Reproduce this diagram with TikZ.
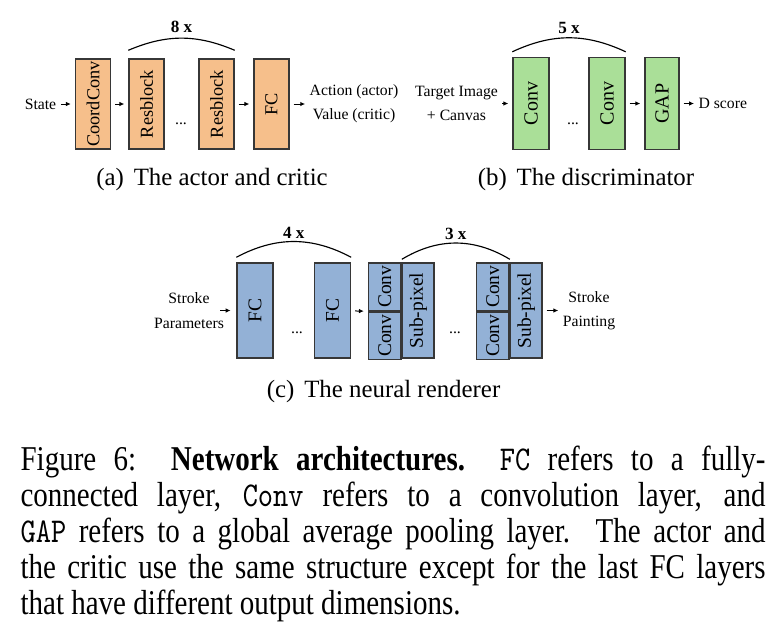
\documentclass[tikz,border=0pt]{standalone}
\usepackage{fontspec}
\setmainfont{Liberation Serif}
\usetikzlibrary{arrows.meta}
\definecolor{actfill}{RGB}{246,191,139}
\definecolor{disfill}{RGB}{170,223,152}
\definecolor{renfill}{RGB}{147,177,214}
\definecolor{edgegray}{RGB}{55,55,55}

\begin{document}
\begin{tikzpicture}[x=0.35pt,y=-0.35pt,
   layer/.style={draw=edgegray, line width=0.5pt, inner sep=0pt},
   actbox/.style={layer, fill=actfill, minimum width=12.25pt, minimum height=31.5pt, font=\fontsize{6.4}{7}\selectfont},
   disbox/.style={layer, fill=disfill, minimum width=12.6pt, minimum height=32.2pt, font=\fontsize{7}{8}\selectfont},
   renbox/.style={layer, fill=renfill, minimum width=12.6pt, minimum height=33.25pt, font=\fontsize{6.8}{8}\selectfont},
   halfcell/.style={layer, fill=renfill, minimum width=11.4pt, minimum height=16.625pt, font=\fontsize{6.8}{8}\selectfont},
   fullcell/.style={layer, fill=renfill, minimum width=11pt, minimum height=33.25pt, font=\fontsize{6.8}{8}\selectfont},
   lbl/.style={inner sep=0pt, align=center, font=\fontsize{5.5}{8.5}\selectfont},
   flow/.style={-{Latex[length=1.7pt,width=1.6pt]}, line width=0.35pt, shorten <=1.4pt, shorten >=1.4pt},
   rep/.style={line width=0.4pt},
   cnt/.style={inner sep=0pt, font=\bfseries\fontsize{6}{7}\selectfont},
   subcap/.style={inner sep=0pt, font=\fontsize{8.7}{10}\selectfont}]
   \useasboundingbox (0,0) rectangle (770,633);
   % (a) actor and critic
   \node[lbl] (state) at (40.5,104) {State};
   \node[actbox] (coord) at (93,104) {\rotatebox{90}{CoordConv}};
   \node[actbox] (res1) at (146.5,104) {\rotatebox{90}{Resblock}};
   \node[actbox] (res2) at (216.5,104) {\rotatebox{90}{Resblock}};
   \node[actbox] (fca) at (271.5,104) {\rotatebox{90}{FC}};
   \node[lbl, anchor=base] (dotsa) at (181,124.5) {...};
   \node[lbl] (actout) at (354,104) {Action (actor)\\Value (critic)};
   \draw[flow] (state) -- (coord);
   \draw[flow] (coord) -- (res1);
   \draw[flow] (res2) -- (fca);
   \draw[flow] (fca) -- (actout);
   \draw[rep] ([shift={(0,-8)}]res1.north west) to[bend left=23]
      node[cnt, midway, above=1.7pt] (eightx) {8 x} ([shift={(0,-8)}]res2.north east);
   \node[subcap] (capa) at (212,180) {(a)\hspace{0.4em}The actor and critic};
   % (b) discriminator
   \node[lbl] (disin) at (456.5,103.5) {Target Image\\+ Canvas};
   \node[disbox] (conv1) at (531,103.5) {\rotatebox{90}{Conv}};
   \node[disbox] (conv2) at (607,103.5) {\rotatebox{90}{Conv}};
   \node[disbox, minimum width=11.9pt] (gap) at (662,103.5) {\rotatebox{90}{GAP}};
   \node[lbl, anchor=base] (dotsb) at (573,124.5) {...};
   \node[lbl, anchor=west] (dscore) at (698,103.5) {D score};
   \draw[flow] (disin) -- (conv1);
   \draw[flow] (conv2) -- (gap);
   \draw[flow] (gap) -- (dscore);
   \draw[rep] ([shift={(0,-5)}]conv1.north west) to[bend left=25]
      node[cnt, midway, above=1.4pt] (fivex) {5 x} ([shift={(0,-5)}]conv2.north east);
   \node[subcap] (capb) at (586,180) {(b)\hspace{0.4em}The discriminator};
   % (c) neural renderer
   \node[lbl] (renin) at (189,310.5) {Stroke\\Parameters};
   \node[renbox] (fc1) at (255,310.5) {\rotatebox{90}{FC}};
   \node[renbox] (fc2) at (332.5,310.5) {\rotatebox{90}{FC}};
   \node[lbl, anchor=base] (dotsc) at (297,333) {...};
   \node[fullcell] (sp1) at (418.25,310.5) {\rotatebox{90}{Sub-pixel}};
   \node[halfcell, anchor=north east] (cv1a) at (sp1.north west) {\rotatebox{90}{Conv}};
   \node[halfcell, anchor=north] (cv1b) at (cv1a.south) {\rotatebox{90}{Conv}};
   \node[lbl, anchor=base] (dotsd) at (455,333) {...};
   \node[fullcell] (sp2) at (526.25,310.5) {\rotatebox{90}{Sub-pixel}};
   \node[halfcell, anchor=north east] (cv2a) at (sp2.north west) {\rotatebox{90}{Conv}};
   \node[halfcell, anchor=north] (cv2b) at (cv2a.south) {\rotatebox{90}{Conv}};
   \node[lbl] (renout) at (589,310.5) {Stroke\\Painting};
   \draw[flow, shorten <=-1.4pt, shorten >=2pt] (renin) -- (fc1);
   \draw[flow] (fc2) -- (cv1a.south west);
   \draw[flow] (sp2) -- (renout);
   \draw[rep] ([shift={(0,-5)}]fc1.north west) to[bend left=28]
      node[cnt, midway, above=0.9pt] (fourx) {4 x} ([shift={(0,-5)}]fc2.north east);
   \draw[rep] ([shift={(0,-3)}]sp1.north west) to[bend left=31]
      node[cnt, midway, above=1pt] (threex) {3 x} ([shift={(0,-3)}]cv2a.north east);
   \node[subcap] (capc) at (383.5,392) {(c)\hspace{0.4em}The neural renderer};
   % figure caption
   \node[inner sep=0pt, anchor=north west] (figcap) at (20,445) {\scalebox{1}[1.2]{\parbox{260.75pt}{\fontsize{10.15}{10.5}\selectfont\noindent
      \makebox[\linewidth][s]{Figure 6:\ \ \textbf{Network architectures.}\ \ \texttt{FC} refers to a fully-}\\
      \makebox[\linewidth][s]{connected layer, \texttt{Conv} refers to a convolution layer, and}\\
      \makebox[\linewidth][s]{\texttt{GAP} refers to a global average pooling layer. The actor and}\\
      \makebox[\linewidth][s]{the critic use the same structure except for the last FC layers}\\
      that have different output dimensions.}}};
\end{tikzpicture}
\end{document}
